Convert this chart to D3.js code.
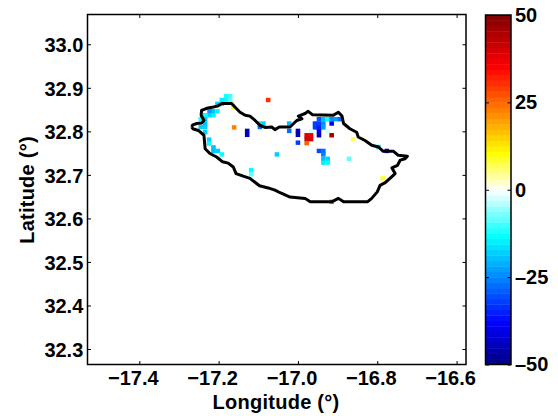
<!DOCTYPE html>
<html><head><meta charset="utf-8">
<script src="https://cdn.jsdelivr.net/npm/d3@7"></script>
<style>html,body{margin:0;padding:0;background:#fff;overflow:hidden}
text{font-family:"Liberation Sans",Arial,sans-serif;font-weight:bold;fill:#000}</style>
</head><body><svg id="c" width="558" height="416"></svg>
<script>
const coastLon=[-17.268,-17.265,-17.255,-17.243,-17.237,-17.244,-17.243,-17.230,-17.213,-17.203,-17.192,-17.167,-17.159,-17.146,-17.133,-17.121,-17.108,-17.096,-17.083,-17.066,-17.058,-17.047,-17.020,-17.003,-16.990,-16.999,-16.982,-16.974,-16.963,-16.911,-16.898,-16.889,-16.885,-16.869,-16.852,-16.848,-16.831,-16.814,-16.797,-16.785,-16.759,-16.747,-16.724,-16.730,-16.742,-16.749,-16.763,-16.755,-16.768,-16.780,-16.793,-16.800,-16.814,-16.825,-16.885,-16.898,-16.915,-16.969,-16.982,-17.020,-17.045,-17.058,-17.075,-17.097,-17.121,-17.138,-17.156,-17.163,-17.176,-17.190,-17.205,-17.222,-17.234,-17.237,-17.251,-17.265,-17.268];
const coastLat=[32.810,32.815,32.818,32.819,32.825,32.837,32.848,32.853,32.856,32.858,32.864,32.864,32.856,32.844,32.837,32.835,32.825,32.814,32.809,32.810,32.804,32.810,32.810,32.825,32.829,32.835,32.841,32.846,32.838,32.837,32.844,32.835,32.818,32.806,32.798,32.787,32.779,32.768,32.764,32.754,32.754,32.745,32.743,32.737,32.734,32.722,32.716,32.703,32.692,32.682,32.676,32.661,32.646,32.638,32.638,32.646,32.638,32.638,32.646,32.649,32.659,32.665,32.670,32.675,32.692,32.697,32.703,32.718,32.727,32.730,32.741,32.749,32.760,32.791,32.802,32.806,32.810];
const cellLon=[-17.171,-17.181,-17.181,-17.192,-17.203,-17.192,-17.171,-17.215,-17.223,-17.223,-17.213,-17.203,-17.234,-17.245,-17.234,-17.234,-17.245,-17.234,-17.234,-17.224,-17.224,-17.213,-17.202,-17.213,-17.192,-17.163,-17.161,-17.075,-17.128,-17.128,-17.096,-17.087,-17.097,-17.022,-17.022,-17.000,-17.000,-17.000,-17.053,-17.118,-17.118,-16.947,-16.936,-16.925,-16.915,-16.904,-16.894,-16.957,-16.947,-16.936,-16.915,-16.957,-16.947,-16.936,-16.947,-16.967,-16.925,-16.947,-16.978,-16.967,-16.915,-16.978,-16.967,-16.978,-16.861,-16.947,-16.936,-16.936,-16.936,-16.925,-16.936,-16.925,-16.871,-16.797,-16.776,-16.786,-16.915];
const cellLat=[32.881,32.881,32.872,32.872,32.863,32.863,32.872,32.846,32.846,32.837,32.837,32.846,32.837,32.828,32.828,32.818,32.810,32.810,32.798,32.781,32.772,32.763,32.755,32.755,32.747,32.855,32.809,32.872,32.801,32.792,32.810,32.818,32.818,32.818,32.801,32.801,32.792,32.774,32.747,32.711,32.701,32.828,32.828,32.828,32.828,32.828,32.828,32.818,32.818,32.818,32.818,32.809,32.809,32.809,32.800,32.800,32.800,32.791,32.791,32.791,32.791,32.782,32.782,32.773,32.782,32.755,32.755,32.747,32.737,32.737,32.728,32.728,32.737,32.764,32.755,32.692,32.638];
const cellValue=[-10,-12,-14,-15,-18,-16,-9,-20,-22,-18,-15,-15,-14,-12,-18,-20,-18,-18,-18,-18,-14,-20,-18,-20,-14,10,22,30,-45,-45,-28,-18,-15,-20,-28,-45,-45,-32,-18,-13,-9,-30,-20,-14,-24,-22,-28,-32,-32,-24,-38,-32,-35,-22,-42,-3,-3,-45,38,36,46,42,38,25,7,-30,-28,-26,-20,-18,-15,-13,-9,-18,-38,8,24];
const xTicks=[-17.4,-17.2,-17.0,-16.8,-16.6];
const yTicks=[32.3,32.4,32.5,32.6,32.7,32.8,32.9,33.0];
const cbTicks=[50,25,0,-25,-50];
const colorStops=[-50,-38,-13.5,0,10.5,35,50];
const colorNames=["#000080","#0000ff","#00ffff","#ffffff","#ffff00","#ff0000","#800000"];
const levels=64;

const L=87.5,R=466,T=14.5,B=364.5;
const x=d3.scaleLinear().domain([-17.5306,-16.5763]).range([L,R]);
const y=d3.scaleLinear().domain([32.2644,33.0684]).range([B,T]);
const cLin=d3.scaleLinear().domain(colorStops).range(colorNames);
const band=v=>{const i=Math.min(levels-1,Math.floor((v+50)/100*levels));return cLin(-50+(i+.5)*100/levels);};
const svg=d3.select("#c");
const fmt=d=>d3.format(".1f")(d).replace("-","–");
const cw=Math.abs(x(0.0115)-x(0)),ch=Math.abs(y(0.0102)-y(0));

svg.append("g").selectAll("rect").data(cellValue).join("rect")
 .attr("x",(d,i)=>x(cellLon[i])-cw/2).attr("y",(d,i)=>y(cellLat[i])-ch/2)
 .attr("width",cw).attr("height",ch).attr("fill",d=>band(d));

svg.append("path").datum(d3.range(coastLon.length))
 .attr("d",d3.line().x(i=>x(coastLon[i])).y(i=>y(coastLat[i])))
 .attr("fill","none").attr("stroke","#000").attr("stroke-width",3).attr("stroke-linejoin","round");

const FS=20;
function style(g,size){g.selectAll(".domain").remove();g.selectAll("line").attr("stroke","#000").attr("stroke-width",1);
 g.selectAll("text").style("font-size",size+"px").attr("fill","#000");}
svg.append("g").attr("transform",`translate(0,${B})`)
 .call(d3.axisBottom(x).tickValues(xTicks).tickSize(-3.5).tickPadding(6).tickFormat(fmt)).call(style,FS)
 .selectAll("text").attr("dx",-6.5);
svg.append("g").attr("transform",`translate(${L},0)`)
 .call(d3.axisLeft(y).tickValues(yTicks).tickSize(-3.5).tickPadding(4.2).tickFormat(d3.format(".1f"))).call(style,FS)
 .selectAll("text").attr("y",1);
svg.append("g").attr("transform",`translate(${R},0)`)
 .call(d3.axisRight(y).tickValues(yTicks).tickSize(-3.5).tickFormat("")).call(style,FS);
svg.append("g").attr("transform",`translate(0,${T})`)
 .call(d3.axisTop(x).tickValues(xTicks).tickSize(-3.5).tickFormat("")).call(style,FS);
svg.append("rect").attr("x",L).attr("y",T).attr("width",R-L).attr("height",B-T)
 .attr("fill","none").attr("stroke","#000").attr("stroke-width",1.5);

svg.append("text").attr("x",276).attr("y",409).attr("text-anchor","middle").style("font-size",FS+"px").style("letter-spacing","0.25px").text("Longitude (°)");
svg.append("text").attr("transform","translate(33.5,190) rotate(-90)").attr("text-anchor","middle").style("font-size",FS+"px").style("letter-spacing","0.25px").text("Latitude (°)");

// colour bar
const cL=485.5,cR=511,cT=15,cB=364.5;
const cy=d3.scaleLinear().domain([-50,50]).range([cB,cT]);
svg.append("g").selectAll("rect").data(d3.range(levels)).join("rect")
 .attr("x",cL).attr("width",cR-cL)
 .attr("y",i=>cy(-50+(i+1)*100/levels)).attr("height",(cB-cT)/levels+.4)
 .attr("fill",i=>cLin(-50+(i+.5)*100/levels));
svg.append("rect").attr("x",cL).attr("y",cT).attr("width",cR-cL).attr("height",cB-cT)
 .attr("fill","none").attr("stroke","#000").attr("stroke-width",1.5);
svg.append("g").attr("transform",`translate(${cR},0)`)
 .call(d3.axisRight(cy).tickValues(cbTicks).tickSize(-3.5).tickPadding(4).tickFormat(d=>String(d).replace("-","–"))).call(style,FS);
svg.append("g").attr("transform",`translate(${cL},0)`)
 .call(d3.axisLeft(cy).tickValues(cbTicks).tickSize(-3.5).tickFormat("")).call(style,FS);
</script></body></html>
